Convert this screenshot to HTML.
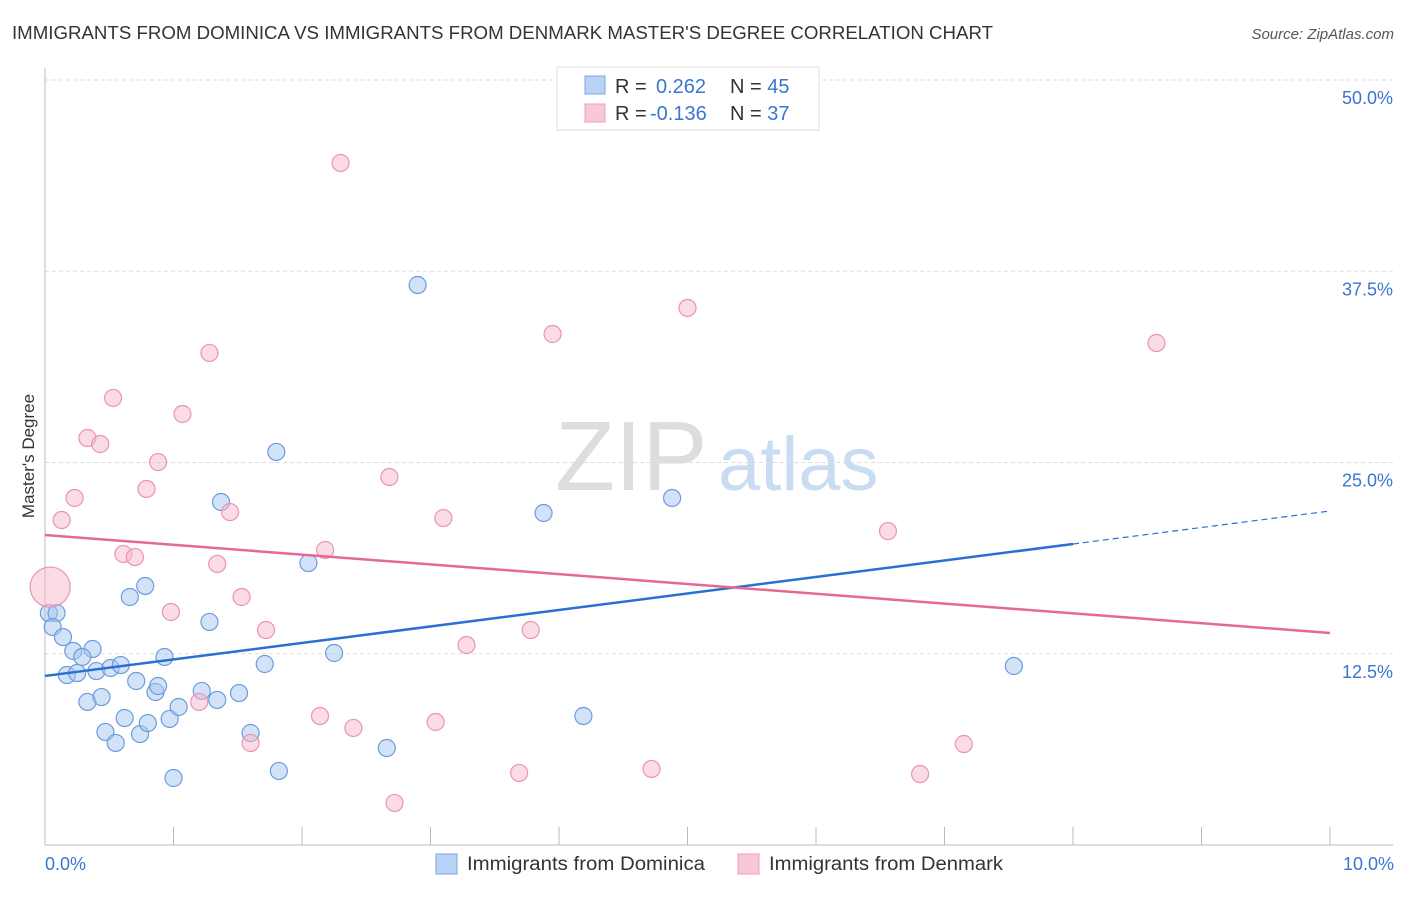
<!DOCTYPE html>
<html><head><meta charset="utf-8"><style>
body{margin:0;background:#fff;font-family:"Liberation Sans",sans-serif;}
svg text{font-family:"Liberation Sans",sans-serif;}
</style></head><body>
<svg id="c" width="1406" height="892">
<text x="12" y="39" font-size="18" fill="#333" textLength="981" lengthAdjust="spacingAndGlyphs">IMMIGRANTS FROM DOMINICA VS IMMIGRANTS FROM DENMARK MASTER'S DEGREE CORRELATION CHART</text>
<text x="1394" y="39" font-size="15" fill="#555" font-style="italic" text-anchor="end">Source: ZipAtlas.com</text>
<text x="555" y="490" font-size="98" fill="#ddd" font-family="Liberation Serif">ZIP</text>
<text x="718" y="490" font-size="76" fill="#c9dcf2">atlas</text>
<text x="34" y="456" font-size="17" fill="#333" text-anchor="middle" transform="rotate(-90 34 456)">Master's Degree</text>
<g id="grid"></g><g id="axes"></g><g id="pts"></g><g id="trend"></g>
<g>
<rect x="557" y="67" width="262" height="63" fill="#fff" stroke="#ddd"/>
<rect x="585" y="76" width="20" height="18" fill="#b8d3f5" stroke="#7aa6e0"/>
<rect x="585" y="104" width="20" height="18" fill="#f9c8d6" stroke="#eea0b8"/>
<text x="615" y="93" font-size="20" fill="#333">R = <tspan x="656" fill="#3a76d0">0.262</tspan><tspan x="730">N = </tspan><tspan fill="#3a76d0">45</tspan></text>
<text x="615" y="120" font-size="20" fill="#333">R = <tspan x="650" fill="#3a76d0">-0.136</tspan><tspan x="730">N = </tspan><tspan fill="#3a76d0">37</tspan></text>
</g>
<g>
<rect x="436" y="854" width="21" height="20" fill="#b8d3f5" stroke="#7aa6e0"/>
<text x="467" y="870" font-size="19" fill="#333" textLength="238" lengthAdjust="spacingAndGlyphs">Immigrants from Dominica</text>
<rect x="738" y="854" width="21" height="20" fill="#f9c8d6" stroke="#eea0b8"/>
<text x="769" y="870" font-size="19" fill="#333" textLength="234" lengthAdjust="spacingAndGlyphs">Immigrants from Denmark</text>
</g>
<text x="45" y="870" font-size="18" fill="#3a76d0">0.0%</text>
<text x="1394" y="870" font-size="18" fill="#3a76d0" text-anchor="end">10.0%</text>
</svg>
<script>
const blueX=[0.03,0.09,0.06,0.14,0.22,0.37,0.29,0.17,0.25,0.40,0.51,0.59,0.71,0.93,0.86,0.88,0.33,0.44,0.62,0.47,0.55,0.74,0.80,0.97,1.04,1.00,1.22,1.34,1.51,1.28,0.66,0.78,1.37,1.60,1.71,1.82,1.80,2.05,2.25,2.66,2.90,3.88,4.19,4.88,7.54];
const blueY=[15.16,15.16,14.25,13.59,12.68,12.81,12.29,11.11,11.24,11.37,11.57,11.76,10.72,12.29,10.00,10.39,9.35,9.67,8.30,7.39,6.67,7.25,7.97,8.24,9.02,4.38,10.07,9.48,9.93,14.58,16.21,16.93,22.42,7.32,11.83,4.84,25.69,18.43,12.55,6.34,36.60,21.70,8.43,22.68,11.70];
const pinkX=[0.04,0.13,0.23,0.33,0.43,0.53,0.61,0.70,0.79,0.88,0.98,1.07,1.28,1.34,1.44,1.53,1.20,1.60,1.72,2.14,2.18,2.30,2.40,2.68,2.72,3.04,3.10,3.28,3.69,3.78,3.95,4.72,5.00,6.56,6.81,7.15,8.65];
const pinkY=[16.86,21.24,22.68,26.60,26.21,29.22,19.02,18.82,23.27,25.03,15.23,28.17,32.16,18.37,21.76,16.21,9.35,6.67,14.05,8.43,19.28,44.58,7.65,24.05,2.75,8.04,21.37,13.07,4.71,14.05,33.40,4.97,35.10,20.52,4.64,6.60,32.81];
const yTicks=[12.5,25.0,37.5,50.0];
const xTicks=[0,1,2,3,4,5,6,7,8,9,10];
const blueTrend=[11.05,21.83];
const pinkTrend=[20.26,13.86];
const NS='http://www.w3.org/2000/svg';
const X=v=>45+v/10*1285, Y=v=>845-v*15.3;
function mk(p,t,a){const e=document.createElementNS(NS,t);for(const k in a)e.setAttribute(k,a[k]);document.getElementById(p).appendChild(e);return e;}
yTicks.forEach(t=>{
 const l=mk('grid','line',{x1:45,x2:1393,y1:Y(t),y2:Y(t),stroke:'#ddd','stroke-dasharray':'4 3'});
 
 
 const tx=mk('grid','text',{x:1393,y:Y(t)+24,'font-size':18,fill:'#3a76d0','text-anchor':'end'});
 tx.textContent=t.toFixed(1)+'%';
 
 
});
const ax=mk('axes','line',{x1:45,x2:1393,y1:845,y2:845,stroke:'#bbb'});


const ay=mk('axes','line',{x1:45,x2:45,y1:68,y2:845,stroke:'#bbb'});


xTicks.forEach(t=>{
 const l=mk('axes','line',{x1:X(t),x2:X(t),y1:827,y2:845,stroke:'#bbb'});
 
 
});
blueX.forEach((x,i)=>{
 const c=mk('pts','circle',{cx:X(x),cy:Y(blueY[i]),r:8.5,fill:'rgba(168,200,240,0.5)',stroke:'#6b9be0','stroke-width':1.2});
 
 
});
pinkX.forEach((x,i)=>{
 const c=mk('pts','circle',{cx:X(x),cy:Y(pinkY[i]),r:i===0?20:8.5,fill:'rgba(248,184,204,0.5)',stroke:'#eb94b0','stroke-width':1.2});
 
 
});
const bAt=v=>blueTrend[0]+(blueTrend[1]-blueTrend[0])*v/10;
const b1=mk('trend','line',{x1:X(0),y1:Y(bAt(0)),x2:X(8),y2:Y(bAt(8)),stroke:'#2a6fd6','stroke-width':2.5});


const b2=mk('trend','line',{x1:X(8),y1:Y(bAt(8)),x2:X(10),y2:Y(bAt(10)),stroke:'#2a6fd6','stroke-width':1.2,'stroke-dasharray':'6 4'});


const p1=mk('trend','line',{x1:X(0),y1:Y(pinkTrend[0]),x2:X(10),y2:Y(pinkTrend[1]),stroke:'#e46a95','stroke-width':2.5});


</script>
</body></html>
